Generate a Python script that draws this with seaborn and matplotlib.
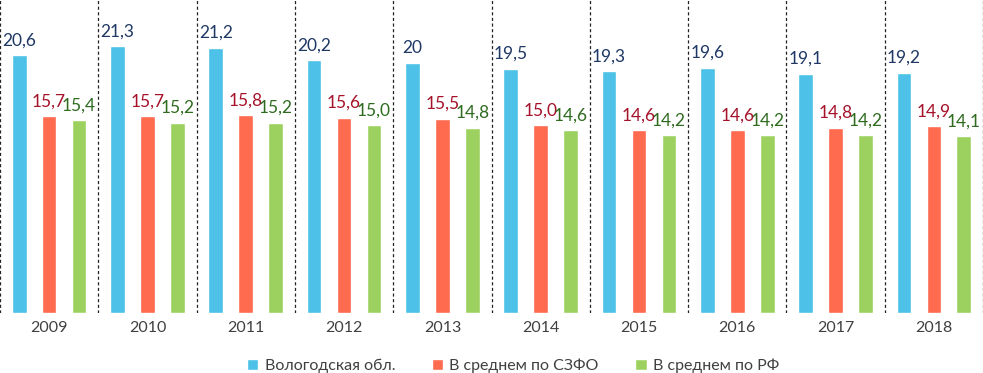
import pandas as pd
import matplotlib.pyplot as plt
import seaborn as sns

# Data
years = ["2009", "2010", "2011", "2012", "2013", "2014", "2015", "2016", "2017", "2018"]
vologda = [20.6, 21.3, 21.2, 20.2, 20.0, 19.5, 19.3, 19.6, 19.1, 19.2]
szfo = [15.7, 15.7, 15.8, 15.6, 15.5, 15.0, 14.6, 14.6, 14.8, 14.9]
rf = [15.4, 15.2, 15.2, 15.0, 14.8, 14.6, 14.2, 14.2, 14.2, 14.1]
series_names = ["Вологодская обл.", "В среднем по СЗФО", "В среднем по РФ"]

bar_colors = ["#4DC1E8", "#FF6B4F", "#9CD160"]
label_colors = ["#1F3864", "#A5122A", "#2E6B1F"]

df = pd.DataFrame({
    "year": years * 3,
    "value": vologda + szfo + rf,
    "series": [s for s in series_names for _ in years],
})

sns.set_style("white")
plt.rcParams["font.family"] = ["Lato", "DejaVu Sans"]

fig = plt.figure(figsize=(9.83, 3.73), dpi=100)
ax = fig.add_axes([0.0, 0.161, 1.0, 0.839])

sns.barplot(data=df, x="year", y="value", hue="series", order=years,
            hue_order=series_names, palette=bar_colors, width=0.915, gap=0.51,
            saturation=1, ax=ax, legend=True)

# Value labels
for i, cont in enumerate(ax.containers):
    for j, bar in enumerate(cont):
        v = bar.get_height()
        if i == 0:
            txt = f"{v:g}".replace(".", ",")
        else:
            txt = f"{v:.1f}".replace(".", ",")
        ax.annotate(txt, (bar.get_x() + bar.get_width() / 2, v),
                    xytext=(0, 5), textcoords="offset points",
                    ha="center", va="bottom", fontsize=12.5, color=label_colors[i])

# Dashed separators between years
for k in range(len(years) + 1):
    ax.axvline(k - 0.5, color="#222222", linestyle=(0, (2.5, 2)), linewidth=0.9)

ax.set_xlim(-0.5, len(years) - 0.5)
ax.set_ylim(0, 25)
ax.set_xlabel("")
ax.set_ylabel("")
ax.set_yticks([])
ax.tick_params(axis="x", length=0, pad=6, labelsize=11.5, labelcolor="#404040")
for sp in ax.spines.values():
    sp.set_visible(False)

ax.legend(loc="upper center", bbox_to_anchor=(0.522, -0.1), ncol=3, frameon=False,
          fontsize=11.5, labelcolor="#404040", handlelength=0.7, handleheight=0.7,
          handletextpad=0.4, columnspacing=2.3)

fig.savefig("out.png", dpi=100)
